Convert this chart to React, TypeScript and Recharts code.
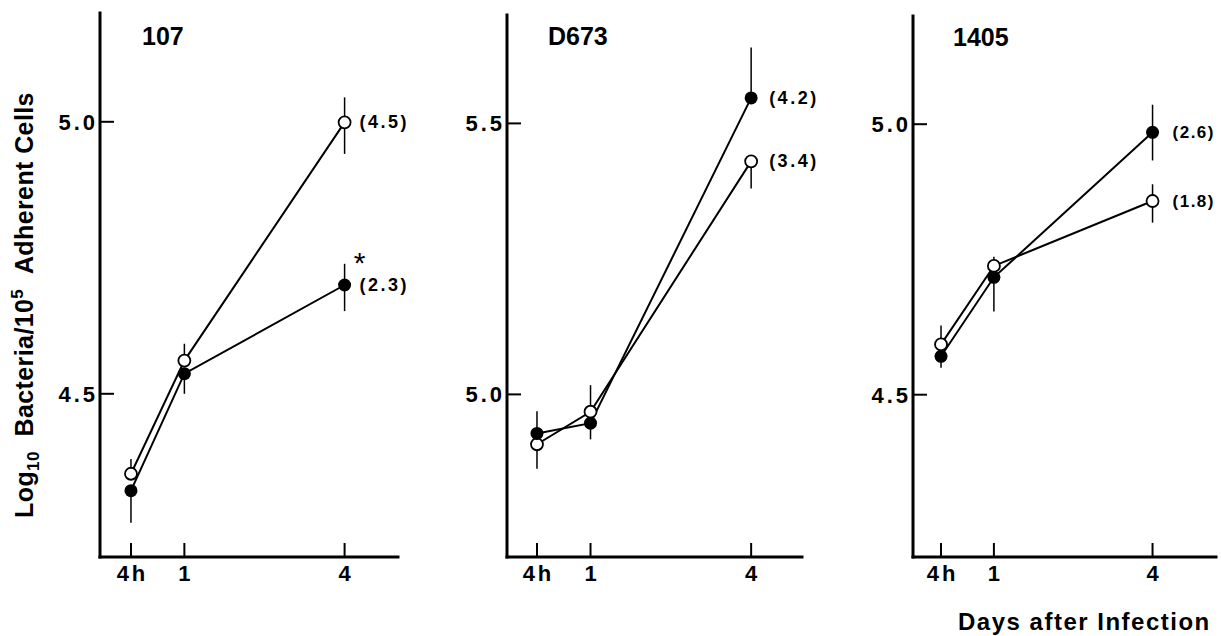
import React from 'react';
import { LineChart, Line, XAxis, YAxis, ErrorBar, LabelList } from 'recharts';

const days = [0, 1, 4];
const dayLabels = ['4h', '1', '4'];

// strain 107
const s107Open = [4.353, 4.561, 4.999];
const s107Filled = [4.322, 4.537, 4.7];
const s107OpenErr = [[0, 0.027], [0, 0.031], [0.058, 0.046]];
const s107FilledErr = [[0.059, 0], [0.037, 0], [0.048, 0.039]];
const s107OpenNote = ['', '', '(4.5)'];
const s107FilledNote = ['', '', '(2.3)'];
const s107FilledMark = ['', '', '*'];

// strain D673
const d673Open = [4.908, 4.968, 5.43];
const d673Filled = [4.928, 4.947, 5.547];
const d673OpenErr = [[0.045, 0], [0, 0.049], [0.05, 0]];
const d673FilledErr = [[0, 0.041], [0.03, 0], [0, 0.093]];
const d673OpenNote = ['', '', '(3.4)'];
const d673FilledNote = ['', '', '(4.2)'];
const d673FilledMark = ['', '', ''];

// strain 1405
const s1405Open = [4.593, 4.738, 4.858];
const s1405Filled = [4.571, 4.717, 4.985];
const s1405OpenErr = [[0, 0.035], [0, 0.017], [0.04, 0.031]];
const s1405FilledErr = [[0.021, 0], [0.063, 0], [0.052, 0.051]];
const s1405OpenNote = ['', '', '(1.8)'];
const s1405FilledNote = ['', '', '(2.6)'];
const s1405FilledMark = ['', '', ''];

const FONT = '"Liberation Sans", Arial, sans-serif';

const buildRows = (open: number[], filled: number[], openErr: number[][], filledErr: number[][],
  openNote: string[], filledNote: string[], mark: string[]) =>
  days.map((d, i) => ({
    day: d,
    open: open[i],
    filled: filled[i],
    openErr: openErr[i],
    filledErr: filledErr[i],
    openNote: openNote[i],
    filledNote: filledNote[i],
    mark: mark[i],
  }));

const XTick = (p: any) => {
  const { x, y, payload } = p;
  const idx = days.indexOf(payload.value);
  return (
    <g>
      <line x1={x} y1={y - 8} x2={x} y2={y - 22} stroke="#000" strokeWidth={2} />
      <text x={x + 1.5} y={y} dy={16} textAnchor="middle" fontFamily={FONT} fontWeight="bold"
        fontSize={22} letterSpacing={3} fill="#000">{dayLabels[idx]}</text>
    </g>
  );
};

const YTick = (p: any) => {
  const { x, y, payload } = p;
  return (
    <g>
      <line x1={x + 2} y1={y} x2={x + 16} y2={y} stroke="#000" strokeWidth={2} />
      <text x={x} y={y} dy={8} textAnchor="end" fontFamily={FONT} fontWeight="bold"
        fontSize={22} letterSpacing={3} fill="#000">{Number(payload.value).toFixed(1)}</text>
    </g>
  );
};

const noteContent = (dx: number, size: number, ls: number) => (props: any) => {
  const { x, y, value } = props;
  if (!value) return null;
  return (
    <text x={x + dx} y={y} dominantBaseline="central" fontFamily={FONT} fontWeight="bold"
      fontSize={size} letterSpacing={ls} fill="#000">{value}</text>
  );
};

const markContent = (props: any) => {
  const { x, y, value } = props;
  if (!value) return null;
  return (
    <text x={x + 15} y={y - 12} textAnchor="middle" fontFamily={FONT} fontSize={30} fill="#000">{value}</text>
  );
};

type PanelProps = {
  chartLeft: number;
  plotLeft: number;
  plotRight: number;
  plotTop: number;
  plotBottom: number;
  xDomain: number[];
  yDomain: number[];
  yTicks: number[];
  rows: any[];
  noteDx: number;
  noteSize: number;
  noteSpacing: number;
};

const Panel = ({ chartLeft, plotLeft, plotRight, plotTop, plotBottom, xDomain, yDomain, yTicks, rows, noteDx, noteSize, noteSpacing }: PanelProps) => {
  const pad = 10;
  const padRight = 60;
  const xAxisH = 40;
  const width = plotRight - chartLeft + padRight;
  const height = plotBottom - plotTop + pad + xAxisH;
  const axisLine = { stroke: '#000', strokeWidth: 3, strokeLinecap: 'square' as const };
  return (
    <div style={{ position: 'absolute', left: chartLeft, top: plotTop - pad }}>
      <LineChart width={width} height={height} data={rows} margin={{ top: pad, right: padRight, bottom: 0, left: 0 }}>
        <XAxis type="number" dataKey="day" domain={xDomain} ticks={days} interval={0} allowDataOverflow
          height={xAxisH} tickSize={0} tickMargin={8} tickLine={false} axisLine={axisLine}
          tick={(p: any) => <XTick {...p} />} />
        <YAxis type="number" domain={yDomain} ticks={yTicks} interval={0} allowDataOverflow
          width={plotLeft - chartLeft} tickSize={0} tickMargin={2} tickLine={false} axisLine={axisLine}
          tick={(p: any) => <YTick {...p} />} />
        <Line dataKey="open" stroke="#000" strokeWidth={2} dot={false} isAnimationActive={false} />
        <Line dataKey="filled" stroke="#000" strokeWidth={2} dot={false} isAnimationActive={false} />
        <Line dataKey="open" stroke="none" isAnimationActive={false}
          dot={{ r: 6, fill: '#fff', stroke: '#000', strokeWidth: 1.8 }}>
          <ErrorBar dataKey="openErr" width={0} stroke="#000" strokeWidth={1.5} direction="y" />
          <LabelList dataKey="openNote" content={noteContent(noteDx, noteSize, noteSpacing)} />
        </Line>
        <Line dataKey="filled" stroke="none" isAnimationActive={false}
          dot={{ r: 6.5, fill: '#000', stroke: '#000', strokeWidth: 0 }}>
          <ErrorBar dataKey="filledErr" width={0} stroke="#000" strokeWidth={1.5} direction="y" />
          <LabelList dataKey="filledNote" content={noteContent(noteDx, noteSize, noteSpacing)} />
          <LabelList dataKey="mark" content={markContent} />
        </Line>
      </LineChart>
    </div>
  );
};

const App = () => {
  const rows107 = buildRows(s107Open, s107Filled, s107OpenErr, s107FilledErr, s107OpenNote, s107FilledNote, s107FilledMark);
  const rowsD673 = buildRows(d673Open, d673Filled, d673OpenErr, d673FilledErr, d673OpenNote, d673FilledNote, d673FilledMark);
  const rows1405 = buildRows(s1405Open, s1405Filled, s1405OpenErr, s1405FilledErr, s1405OpenNote, s1405FilledNote, s1405FilledMark);

  return (
    <div style={{ position: 'absolute', left: 0, top: 0, width: 1222, height: 636, background: '#fff', overflow: 'hidden' }}>
      <Panel chartLeft={40} plotLeft={100} plotRight={398} plotTop={13} plotBottom={557}
        xDomain={[-0.58, 5]} yDomain={[4.2, 5.2]} yTicks={[4.5, 5.0]} rows={rows107}
        noteDx={15} noteSize={18} noteSpacing={2.5} />
      <Panel chartLeft={447} plotLeft={507} plotRight={802} plotTop={15} plotBottom={557}
        xDomain={[-0.56, 4.95]} yDomain={[4.7, 5.7]} yTicks={[5.0, 5.5]} rows={rowsD673}
        noteDx={18} noteSize={18} noteSpacing={2.5} />
      <Panel chartLeft={853} plotLeft={913} plotRight={1216} plotTop={16} plotBottom={557}
        xDomain={[-0.53, 5.2]} yDomain={[4.2, 5.2]} yTicks={[4.5, 5.0]} rows={rows1405}
        noteDx={20} noteSize={17} noteSpacing={1.5} />
      <svg width={1222} height={636} style={{ position: 'absolute', left: 0, top: 0, pointerEvents: 'none' }}>
        <g fontFamily={FONT} fontWeight="bold" fill="#000">
          <text x={142} y={45} fontSize={25}>107</text>
          <text x={548} y={45} fontSize={25}>D673</text>
          <text x={953} y={46} fontSize={25}>1405</text>
          <text x={958} y={630} fontSize={24} letterSpacing={1.5}>Days after Infection</text>
          <text transform="translate(33,305) rotate(-90)" textAnchor="middle" fontSize={25} letterSpacing={0.4}>
            Log<tspan dy={6} fontSize={17}>10</tspan>
            <tspan dy={-6}>{'\u00a0\u00a0'}Bacteria/10</tspan>
            <tspan dy={-10} fontSize={17}>5</tspan>
            <tspan dy={10}>{'\u00a0\u00a0'}Adherent Cells</tspan>
          </text>
        </g>
      </svg>
    </div>
  );
};

export default App;
